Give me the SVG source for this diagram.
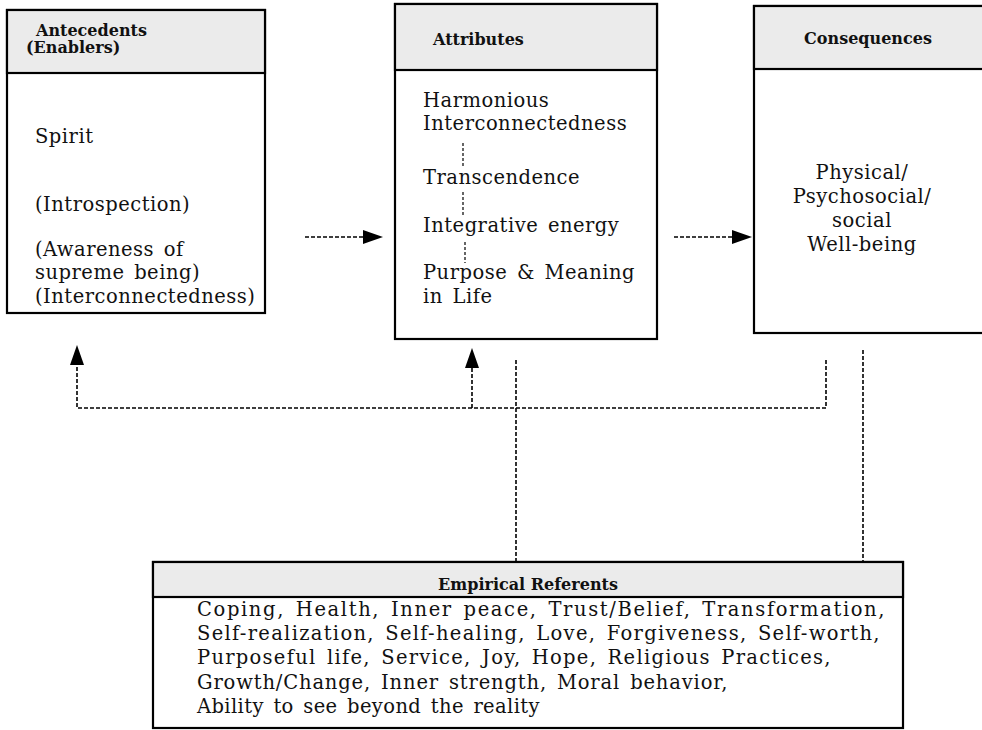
<svg xmlns="http://www.w3.org/2000/svg" width="982" height="730" viewBox="0 0 982 730">
<defs>
<style>
.box{fill:#fff;stroke:#000;stroke-width:2.2}
.hdr{fill:#ebebeb;stroke:#000;stroke-width:2.2}
.t{font-family:"DejaVu Serif","Liberation Serif",serif;font-size:19.5px;fill:#111;letter-spacing:0.5px;word-spacing:3px}
.h{font-family:"DejaVu Serif","Liberation Serif",serif;font-size:16px;font-weight:bold;fill:#111}
.d{fill:none;stroke:#000;stroke-width:1.6;stroke-dasharray:4 2}
.d2{fill:none;stroke:#000;stroke-width:1.2;stroke-dasharray:3 2}
</style>
<marker id="ah" markerUnits="userSpaceOnUse" markerWidth="20" markerHeight="14" refX="0" refY="7" orient="auto">
<path d="M0,0 L20,7 L0,14 Z" fill="#000"/>
</marker>
</defs>
<rect width="982" height="730" fill="#fff"/>

<g id="antecedents">
<rect class="box" x="7" y="10" width="258" height="303"/>
<rect class="hdr" x="7" y="10" width="258" height="63"/>
<text class="h" x="36" y="36">Antecedents</text>
<text class="h" x="26" y="53">(Enablers)</text>
<text class="t" x="35" y="143">Spirit</text>
<text class="t" x="35" y="211">(Introspection)</text>
<text class="t" x="35" y="256">(Awareness of</text>
<text class="t" x="35" y="279">supreme being)</text>
<text class="t" x="35" y="303">(Interconnectedness)</text>
</g>

<g id="attributes">
<rect class="box" x="395" y="4" width="262" height="335"/>
<rect class="hdr" x="395" y="4" width="262" height="66"/>
<text class="h" x="433" y="45">Attributes</text>
<text class="t" x="423" y="107">Harmonious</text>
<text class="t" x="423" y="130">Interconnectedness</text>
<path class="d2" d="M463,143 V167 M463,192 V217 M465,242 V263"/>
<text class="t" x="423" y="184">Transcendence</text>
<text class="t" x="423" y="232">Integrative energy</text>
<text class="t" x="423" y="279">Purpose &amp; Meaning</text>
<text class="t" x="423" y="303">in Life</text>
</g>

<g id="consequences">
<rect class="box" x="754" y="6" width="240" height="327"/>
<rect class="hdr" x="754" y="6" width="240" height="63"/>
<text class="h" x="868" y="44" text-anchor="middle">Consequences</text>
<text class="t" x="862" y="179" text-anchor="middle">Physical/</text>
<text class="t" x="862" y="203" text-anchor="middle">Psychosocial/</text>
<text class="t" x="862" y="227" text-anchor="middle">social</text>
<text class="t" x="862" y="251" text-anchor="middle">Well-being</text>
</g>

<g id="empirical-referents">
<rect class="box" x="153" y="562" width="750" height="166"/>
<rect class="hdr" x="153" y="562" width="750" height="35"/>
<text class="h" x="528" y="590" text-anchor="middle">Empirical Referents</text>
<text class="t" x="197" y="616" textLength="688" lengthAdjust="spacing">Coping, Health, Inner peace, Trust/Belief, Transformation,</text>
<text class="t" x="197" y="640" textLength="683" lengthAdjust="spacing">Self-realization, Self-healing, Love, Forgiveness, Self-worth,</text>
<text class="t" x="197" y="664" textLength="634" lengthAdjust="spacing">Purposeful life, Service, Joy, Hope, Religious Practices,</text>
<text class="t" x="197" y="689" textLength="531" lengthAdjust="spacing">Growth/Change, Inner strength, Moral behavior,</text>
<text class="t" x="197" y="713" textLength="343" lengthAdjust="spacing">Ability to see beyond the reality</text>
</g>

<g id="connectors">
<path class="d" d="M305,237 H363" marker-end="url(#ah)"/>
<path class="d" d="M674,237 H732" marker-end="url(#ah)"/>
<path class="d" d="M826,360 V408 H77 V365" marker-end="url(#ah)"/>
<path class="d" d="M472,408 V368" marker-end="url(#ah)"/>
<path class="d" d="M516,360 V562"/>
<path class="d" d="M863,350 V562"/>
</g>
</svg>
